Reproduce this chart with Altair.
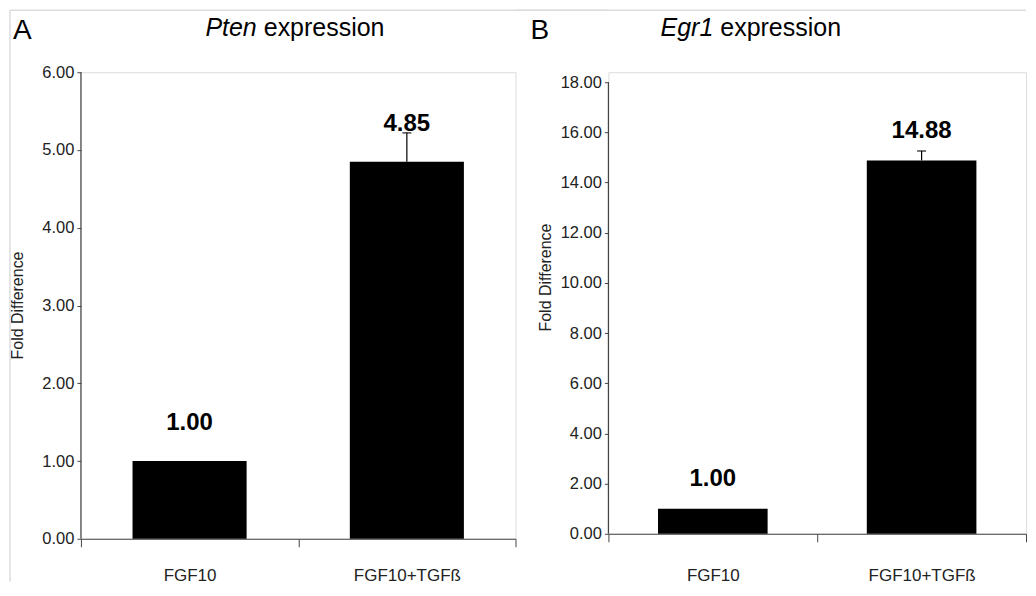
import altair as alt
import pandas as pd

categories = ["FGF10", "FGF10+TGFß"]
pten_values = [1.00, 4.85]
pten_errors = [0.0, 0.37]
egr1_values = [1.00, 14.88]
egr1_errors = [0.0, 0.38]
pten_ticks = [0, 1, 2, 3, 4, 5, 6]
egr1_ticks = [0, 2, 4, 6, 8, 10, 12, 14, 16, 18]

FONT = "Liberation Sans"
AXIS_COLOR = "#444444"
FRAME_COLOR = "#dddddd"


def panel(values, errors, ticks, domain_max, width, height, letter, gene,
          gene_right, letter_x, label_dy, x_label_pad, frame_left, frame_right,
          left_frame, title_y):
    df = pd.DataFrame({"cat": categories, "value": values, "err": errors})
    df["top"] = df["value"] + df["err"]
    df["label"] = [f"{v:.2f}" for v in values]

    yscale = alt.Scale(domain=[0, domain_max], nice=False, zero=True)
    yaxis = alt.Axis(values=ticks, format=".2f", tickSize=4, labelPadding=3,
                     domain=False, grid=False, tickColor=AXIS_COLOR,
                     labelFont=FONT, labelFontSize=16.5, labelColor="#222222",
                     title="Fold Difference", titleFont=FONT, titleFontSize=16,
                     titleFontWeight="normal", titleColor="#222222",
                     titleX=-63, titleY=title_y, titleBaseline="middle")

    def Y(field):
        return alt.Y(field, scale=yscale, axis=yaxis)

    X = alt.X("cat:N", sort=categories, title=None,
              scale=alt.Scale(paddingInner=0, paddingOuter=0),
              axis=alt.Axis(labelAngle=0, tickBand="extent", tickSize=8,
                            labelPadding=x_label_pad, domainColor=AXIS_COLOR,
                            domainWidth=1.2, tickColor=AXIS_COLOR,
                            labelFont=FONT, labelFontSize=17,
                            labelColor="#222222"))

    base = alt.Chart(df)
    bars = base.mark_bar(color="black", width=alt.RelativeBandSize(0.525)).encode(
        x=X, y=Y("value:Q"))
    with_err = base.transform_filter("datum.err > 0")
    err_rule = with_err.mark_rule(color="black", strokeWidth=1.2).encode(
        x=X, y=Y("value:Q"), y2="top:Q")
    cap = with_err.mark_tick(color="black", size=9, thickness=1.5,
                             orient="horizontal").encode(x=X, y=Y("top:Q"))
    labels = base.mark_text(font=FONT, fontSize=24, fontWeight="bold",
                            baseline="alphabetic", dy=label_dy,
                            color="black").encode(x=X, y=Y("value:Q"),
                                                  text="label:N")

    ydf = pd.DataFrame({"y0": [ticks[0]], "y1": [ticks[-1]]})
    yline = alt.Chart(ydf).mark_rule(color=AXIS_COLOR, strokeWidth=1.2).encode(
        x=alt.value(0), y=Y("y0:Q"), y2="y1:Q")

    tdf = pd.DataFrame({"gene": [gene], "rest": ["expression"], "letter": [letter]})
    tb = alt.Chart(tdf)
    gene_txt = tb.mark_text(font=FONT, fontSize=25, fontStyle="italic",
                            align="right", baseline="alphabetic",
                            color="black").encode(
        x=alt.value(gene_right), y=alt.value(-36), text="gene:N")
    rest_txt = tb.mark_text(font=FONT, fontSize=25, align="left",
                            baseline="alphabetic", color="black").encode(
        x=alt.value(gene_right + 7), y=alt.value(-36), text="rest:N")
    letter_txt = tb.mark_text(font=FONT, fontSize=28, align="left",
                              baseline="alphabetic", color="black").encode(
        x=alt.value(letter_x), y=alt.value(-33), text="letter:N")

    frame_top = tb.mark_rule(color=FRAME_COLOR, strokeWidth=1.5).encode(
        x=alt.value(frame_left), x2=alt.value(frame_right), y=alt.value(-62))
    layers = [frame_top, yline, bars, err_rule, cap, labels, gene_txt,
              rest_txt, letter_txt]
    if left_frame:
        frame_l = tb.mark_rule(color=FRAME_COLOR, strokeWidth=1.5).encode(
            x=alt.value(frame_left), y=alt.value(-62), y2=alt.value(510))
        layers.insert(0, frame_l)
    return alt.layer(*layers).properties(width=width, height=height)


panel_a = panel(pten_values, pten_errors, pten_ticks, 6.0, 435, 467, "A",
                "Pten", 176, -68, -31, 21, -71, 528, True, 233)
panel_b = panel(egr1_values, egr1_errors, egr1_ticks, 18.4, 418, 462, "B",
                "Egr1", 105, -78, -23, 26, -93, 418, False, 205)

chart = alt.hconcat(panel_a, panel_b, spacing=93, bounds="flush").properties(
    padding=0
).configure_view(stroke=None).configure(background="white")

chart.save("out.html", embed_options={"renderer": "svg", "actions": False})
